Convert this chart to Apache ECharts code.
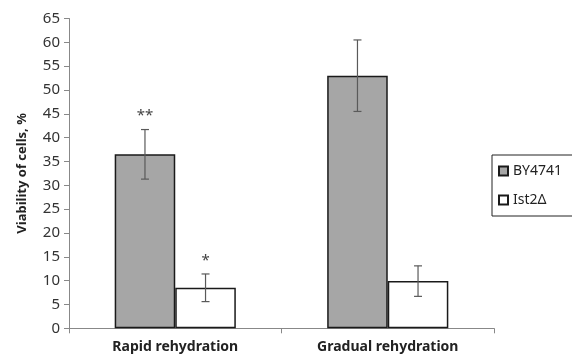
<!DOCTYPE html>
<html><head><meta charset="utf-8">
<script src="https://cdn.jsdelivr.net/npm/echarts@6/dist/echarts.min.js"></script>
<style>html,body{margin:0;padding:0;background:#fff}#c{width:572px;height:358px}</style>
</head><body><div id="c"></div>
<script>
var categories = ['Rapid rehydration', 'Gradual rehydration'];
var seriesNames = ['BY4741', 'Ist2\u0394'];
var by4741 = [36.5, 53.0];
var by4741Err = [5.2, 7.5];
var ist2 = [8.5, 9.9];
var ist2Err = [2.9, 3.2];
var by4741Marks = ['**', ''];
var ist2Marks = ['*', ''];
var yTicks = [0, 65, 5];

var chart = echarts.init(document.getElementById('c'));
var FONT = '"Noto Sans", "Liberation Sans", sans-serif';

function errSeries(vals, errs, marks, idx) {
  var data = vals.map(function (v, i) { return [i, v, errs[i], marks[i]]; });
  return {
    type: 'custom',
    name: 'err' + idx,
    z: 10,
    silent: true,
    data: data,
    renderItem: function (params, api) {
      var ci = api.value(0), v = api.value(1), e = api.value(2);
      var mark = data[params.dataIndex][3];
      var size = api.size([1, 0]);
      var catW = size[0];
      var barW = catW * 0.285;
      var off = (idx === 0 ? -0.5 : 0.5) * barW;
      var top = api.coord([ci, v + e]);
      var bot = api.coord([ci, v - e]);
      var x = top[0] + off;
      var cap = 4;
      var st = { stroke: '#5a5a5a', lineWidth: 1.2 };
      var children = [
        { type: 'line', shape: { x1: x, y1: top[1], x2: x, y2: bot[1] }, style: st },
        { type: 'line', shape: { x1: x - cap, y1: top[1], x2: x + cap, y2: top[1] }, style: st },
        { type: 'line', shape: { x1: x - cap, y1: bot[1], x2: x + cap, y2: bot[1] }, style: st }
      ];
      if (mark) {
        children.push({ type: 'text', style: { text: mark, x: x, y: top[1] - 6, align: 'center', verticalAlign: 'bottom', fill: '#444', font: '15px ' + FONT } });
      }
      return { type: 'group', children: children };
    }
  };
}

chart.setOption({
  animation: false,
  backgroundColor: '#fff',
  grid: { left: 69, right: 78, top: 18.5, bottom: 29.7 },
  legend: {
    data: seriesNames,
    orient: 'vertical',
    left: 492, top: 155,
    itemWidth: 9, itemHeight: 9, itemGap: 15,
    icon: 'rect',
    padding: [9, 30, 9, 6],
    borderColor: '#222', borderWidth: 1,
    textStyle: { fontFamily: FONT, fontSize: 14, color: '#222' }
  },
  xAxis: {
    type: 'category',
    data: categories,
    axisLine: { lineStyle: { color: '#888', width: 1 } },
    axisTick: { show: true, alignWithLabel: false, length: 5, lineStyle: { color: '#888' } },
    axisLabel: { fontFamily: FONT, fontSize: 14, fontWeight: 'bold', color: '#222', margin: 12 }
  },
  yAxis: {
    type: 'value',
    min: yTicks[0], max: yTicks[1], interval: yTicks[2],
    name: 'Viability of cells, %',
    nameLocation: 'middle', nameGap: 40, nameRotate: 90,
    nameTextStyle: { fontFamily: FONT, fontSize: 13, fontWeight: 'bold', color: '#222' },
    axisLine: { show: true, lineStyle: { color: '#888', width: 1 } },
    axisTick: { show: true, inside: false, length: 5, lineStyle: { color: '#888' } },
    splitLine: { show: false },
    axisLabel: { fontFamily: FONT, fontSize: 15, color: '#333', margin: 9 }
  },
  series: [
    { type: 'bar', name: seriesNames[0], data: by4741, barGap: '0%', barCategoryGap: '43%',
      itemStyle: { color: '#a6a6a6', borderColor: '#1a1a1a', borderWidth: 1.5 } },
    { type: 'bar', name: seriesNames[1], data: ist2, barGap: '0%', barCategoryGap: '43%',
      itemStyle: { color: '#ffffff', borderColor: '#1a1a1a', borderWidth: 1.5 } },
    errSeries(by4741, by4741Err, by4741Marks, 0),
    errSeries(ist2, ist2Err, ist2Marks, 1)
  ]
});
</script></body></html>
